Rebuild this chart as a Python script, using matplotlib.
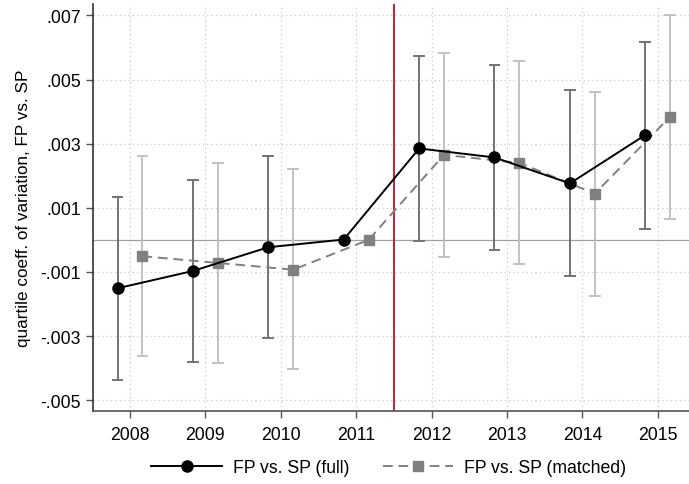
import matplotlib.pyplot as plt
import numpy as np

plt.rcParams['font.family'] = ['Liberation Sans', 'DejaVu Sans']

years = [2008, 2009, 2010, 2011, 2012, 2013, 2014, 2015]
tick_labels = ['.007', '.005', '.003', '.001', '-.001', '-.003', '-.005']
tick_values = [0.007, 0.005, 0.003, 0.001, -0.001, -0.003, -0.005]

# point estimates and 95% CI bounds (2011 is the base year, no interval)
full = [-0.00151, -0.00097, -0.00023, 0.00001, 0.00285, 0.00257, 0.00176, 0.00327]
full_lo = [-0.00436, -0.00381, -0.00307, np.nan, -0.00003, -0.00032, -0.00114, 0.00035]
full_hi = [0.00133, 0.00188, 0.00262, np.nan, 0.00573, 0.00546, 0.00466, 0.00616]

matched = [-0.00051, -0.00072, -0.00093, 0.0, 0.00265, 0.00240, 0.00144, 0.00384]
matched_lo = [-0.00363, -0.00383, -0.00402, np.nan, -0.00052, -0.00076, -0.00175, 0.00066]
matched_hi = [0.00260, 0.00239, 0.00221, np.nan, 0.00582, 0.00559, 0.00461, 0.00702]

x = np.array(years, dtype=float)
x_full = x - 0.165
x_matched = x + 0.165

fig = plt.figure(figsize=(6.89, 4.85), dpi=100)
ax = fig.add_axes([0.1345, 0.151, 0.8655, 0.839])

# grid
for v in tick_values:
    ax.axhline(v, color='#c8c8c8', lw=0.9, ls=(0, (1, 2.5)), zorder=0)
for yr in years:
    ax.axvline(yr, color='#c8c8c8', lw=0.9, ls=(0, (1, 2.5)), zorder=0)
ax.axhline(0, color='#a0a0a0', lw=0.9, zorder=1)
ax.axvline(2011.5, color='#c41e3a', lw=1.4, zorder=1)

# confidence intervals
cap = 0.065
for xs, lo, hi, col in [(x_full, full_lo, full_hi, '#737373'),
                        (x_matched, matched_lo, matched_hi, '#c2c2c2')]:
    for xi, l, h in zip(xs, lo, hi):
        if np.isnan(l):
            continue
        ax.plot([xi, xi], [l, h], color=col, lw=1.4, zorder=2)
        ax.plot([xi - cap, xi + cap], [l, l], color=col, lw=1.4, zorder=2)
        ax.plot([xi - cap, xi + cap], [h, h], color=col, lw=1.4, zorder=2)

ax.plot(x_full, full, color='black', lw=1.4, marker='o', markersize=8,
        label='FP vs. SP (full)', zorder=4)
ax.plot(x_matched, matched, color='#808080', lw=1.4, ls=(0, (5, 3)), marker='s',
        markersize=7.5, label='FP vs. SP (matched)', zorder=3)

ax.set_xlim(2007.505, 2015.415)
ax.set_ylim(-0.00533, 0.00736)
ax.set_xticks(years)
ax.set_xticklabels([str(y) for y in years], fontsize=12.7)
ax.set_yticks(tick_values)
ax.set_yticklabels(tick_labels, fontsize=12.7)
ax.set_ylabel('quartile coeff. of variation, FP vs. SP', fontsize=12.3, labelpad=7)

for side in ['top', 'right']:
    ax.spines[side].set_visible(False)
ax.spines['left'].set_color('#333333')
ax.spines['bottom'].set_color('#555555')
ax.spines['left'].set_linewidth(1.2)
ax.spines['bottom'].set_linewidth(1.2)
ax.tick_params(axis='both', direction='out', length=5, color='#555555', width=1)
ax.tick_params(axis='x', pad=6)

fig.legend(loc='center', bbox_to_anchor=(0.564, 0.033), ncol=2, frameon=False,
           fontsize=12.7, handlelength=4.0, handletextpad=0.6, columnspacing=1.9)

fig.savefig('out.png', dpi=100)
